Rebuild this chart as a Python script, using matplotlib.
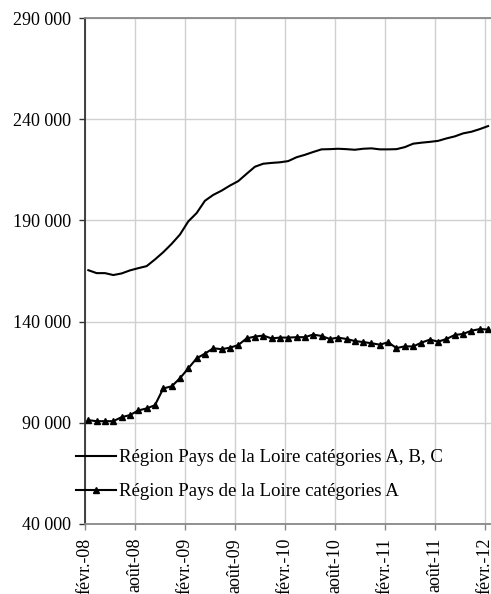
import numpy as np
import matplotlib
matplotlib.use('Agg')
import matplotlib.pyplot as plt
from matplotlib.ticker import FuncFormatter

# monthly series, févr. 2008 -> févr. 2012
abc = [165400, 163950, 163950, 163000, 163800, 165300, 166400, 167400, 170700, 174300,
       178400, 183000, 189500, 193600, 199700, 202600, 204700, 207200, 209400, 213000,
       216500, 218000, 218400, 218700, 219300, 221200, 222400, 223800, 225100, 225200,
       225400, 225200, 224900, 225400, 225600, 225100, 225100, 225200, 226200, 227900,
       228400, 228800, 229300, 230500, 231500, 233000, 233800, 235100, 236600]
cat_a = [91300, 90800, 90800, 90800, 92800, 93800, 96100, 97100, 98700, 107000,
         108000, 112000, 116900, 121800, 124200, 126800, 126400, 127100, 128400, 131700,
         132600, 133100, 131700, 132100, 132100, 132300, 132300, 133600, 132900, 131400,
         132100, 131400, 130400, 129900, 129300, 128600, 129800, 126900, 127800, 127700,
         129600, 131100, 130100, 131400, 133400, 133900, 135500, 136300, 136100]
tick_labels = ['févr.-08', 'août-08', 'févr.-09', 'août-09', 'févr.-10',
               'août-10', 'févr.-11', 'août-11', 'févr.-12']
y_ticks = [40000, 90000, 140000, 190000, 240000, 290000]

plt.rcParams['font.family'] = ['Liberation Serif', 'DejaVu Serif']

fig = plt.figure(figsize=(4.91, 5.94), dpi=100)
ax = fig.add_axes([85 / 491, 1 - 524 / 594, 406 / 491, (524 - 18) / 594])

months = np.arange(len(abc)) + 0.4
l1, = ax.plot(months, abc, color='black', lw=1.5, label='Région Pays de la Loire catégories A, B, C')
l2, = ax.plot(months, cat_a, color='black', lw=1.5, marker='^', markersize=5,
              label='Région Pays de la Loire catégories A')

ax.set_xlim(0, 48.75)
ax.set_ylim(40000, 290000)
ax.set_yticks(y_ticks)
ax.yaxis.set_major_formatter(FuncFormatter(lambda v, p: '{:,.0f}'.format(v).replace(',', ' ')))
ax.set_xticks(np.arange(0, 49, 6))
ax.set_xticklabels(tick_labels, rotation=90)

ax.grid(True, color='#d0d0d0', lw=1.0)
ax.set_axisbelow(True)
ax.spines['right'].set_visible(False)
ax.spines['left'].set_color('#333333')
ax.spines['left'].set_linewidth(1.3)
ax.spines['top'].set_color('#888888')
ax.spines['top'].set_linewidth(1.3)
ax.spines['bottom'].set_color('#888888')
ax.spines['bottom'].set_linewidth(1.3)
ax.tick_params(axis='y', length=4, width=1, color='#333333', pad=6, labelsize=13)
ax.tick_params(axis='x', length=4, width=1, color='#888888', pad=6, labelsize=13)

fig.legend(handles=[l1, l2], loc='upper left', bbox_to_anchor=(76 / 491, 1 - 449 / 594),
           frameon=False, fontsize=13.6, handlelength=2.1, handletextpad=0.2,
           numpoints=1, borderpad=0, borderaxespad=0, labelspacing=0.9)

fig.savefig('out.png', dpi=100)
